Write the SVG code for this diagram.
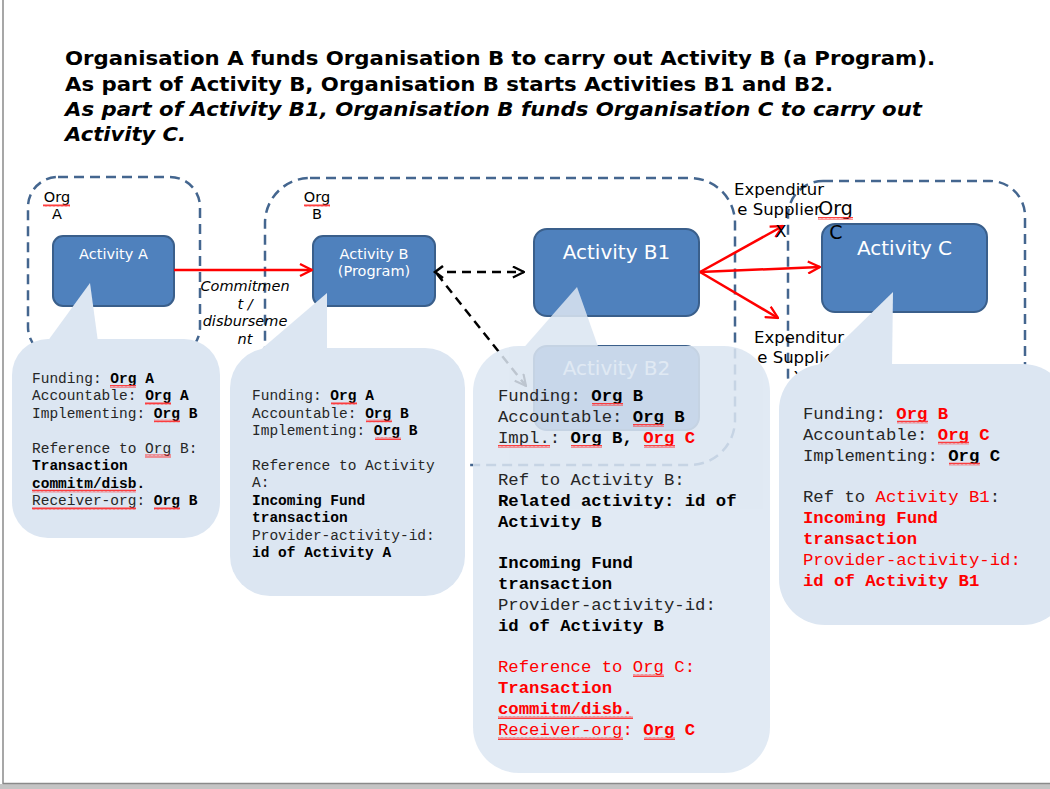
<svg xmlns="http://www.w3.org/2000/svg" width="1050" height="789" viewBox="0 0 1050 789">
<style>
.title{font-family:"DejaVu Sans",sans-serif;font-size:20px;font-weight:bold;fill:#000}
.it{font-style:italic}
.org{fill:none;stroke:#44668f;stroke-width:2.5;stroke-dasharray:10 6}
.olab{font-family:"DejaVu Sans",sans-serif;font-size:14.5px;fill:#000;text-anchor:middle}
.act{fill:#4f81bd;stroke:#3a5f8b;stroke-width:2}
.atx{font-family:"DejaVu Sans",sans-serif;fill:#fff;text-anchor:middle}
.exp{font-family:"DejaVu Sans",sans-serif;font-size:16.5px;fill:#000;text-anchor:middle}
.lbl{font-family:"DejaVu Sans",sans-serif;font-size:14.5px;font-style:italic;fill:#000;text-anchor:middle}
.red{fill:none;stroke:#ff0000;stroke-width:2.5}
.blk{fill:none;stroke:#000;stroke-width:2.5;stroke-dasharray:9 6}
.co{fill:#dce6f2}
.m1{font-family:"Liberation Mono",monospace;font-size:14.5px;fill:#262626}
.m2{font-family:"Liberation Mono",monospace;font-size:17.3px;fill:#262626}
.b{font-weight:bold;fill:#000}
.r{fill:#ff0000}
.rb{font-weight:bold;fill:#ff0000}
.sq{fill:url(#squig)}
</style>
<defs>
<pattern id="squig" width="4" height="3" patternUnits="userSpaceOnUse">
<path d="M0,2.6 L1,0.4 L2,2.6 L3,0.4 L4,2.6" fill="none" stroke="#ff2a2a" stroke-width="0.9"/>
</pattern>
<marker id="ar" viewBox="0 0 14 14" refX="13" refY="7" markerWidth="14" markerHeight="14" markerUnits="userSpaceOnUse" orient="auto">
<path d="M1,1 L13,7 L1,13" fill="none" stroke="#ff0000" stroke-width="2.3"/>
</marker>
<marker id="ak" viewBox="0 0 14 14" refX="13" refY="7" markerWidth="13" markerHeight="13" markerUnits="userSpaceOnUse" orient="auto">
<path d="M1,1 L13,7 L1,13" fill="none" stroke="#000" stroke-width="2.3"/>
</marker>
</defs>

<rect x="0" y="0" width="1050" height="789" fill="#ffffff"/>
<rect x="0" y="784" width="1050" height="5" fill="#c4c4c4"/>
<line x1="3" y1="0" x2="3" y2="784" stroke="#8a8a8a" stroke-width="1.5"/>
<line x1="3" y1="783.5" x2="1050" y2="783.5" stroke="#8a8a8a" stroke-width="1.5"/>

<g id="title">
<text class="title" x="65" y="65" textLength="870" lengthAdjust="spacingAndGlyphs">Organisation A funds Organisation B to carry out Activity B (a Program).</text>
<text class="title" x="65" y="90.5" textLength="768" lengthAdjust="spacingAndGlyphs">As part of Activity B, Organisation B starts Activities B1 and B2.</text>
<text class="title it" x="65" y="116" textLength="857" lengthAdjust="spacingAndGlyphs">As part of Activity B1, Organisation B funds Organisation C to carry out</text>
<text class="title it" x="65" y="141" textLength="121" lengthAdjust="spacingAndGlyphs">Activity C.</text>
</g>

<g id="org-a">
<rect class="org" x="28" y="177" width="172" height="180" rx="30"/>
<text class="olab" x="57" y="202">Org</text>
<text class="olab" x="57" y="219">A</text>
<rect class="sq" x="43" y="204" width="27" height="3"/>
</g>
<g id="org-b">
<rect class="org" x="265" y="178" width="470" height="287" rx="45"/>
<text class="olab" x="317" y="202">Org</text>
<text class="olab" x="317" y="219">B</text>
<rect class="sq" x="304" y="204" width="26" height="3"/>
</g>
<g id="org-c">
<rect class="org" x="788" y="181" width="237" height="230" rx="35"/>
</g>

<g id="expenditure-x-2">
<text class="exp" x="799" y="343">Expenditur</text>
<text class="exp" x="799" y="363">e Supplier</text>
<text class="exp" x="799" y="383">X</text>
</g>

<g id="activity-a">
<rect class="act" x="53" y="236" width="121" height="70" rx="10"/>
<text class="atx" x="113.5" y="259" font-size="14.5px">Activity A</text>
</g>
<g id="activity-b">
<rect class="act" x="313" y="236" width="122" height="70" rx="10"/>
<text class="atx" x="374" y="259" font-size="14.5px">Activity B</text>
<text class="atx" x="374" y="276" font-size="14.5px">(Program)</text>
</g>
<g id="activity-b1">
<rect class="act" x="534" y="229" width="165" height="87" rx="13"/>
<text class="atx" x="616.5" y="259" font-size="20px">Activity B1</text>
</g>
<g id="activity-b2">
<rect class="act" x="534" y="346" width="165" height="84" rx="13"/>
<text class="atx" x="616.5" y="375" font-size="20px">Activity B2</text>
</g>
<g id="activity-c">
<rect class="act" x="822" y="224" width="165" height="88" rx="13"/>
<text class="atx" x="904.5" y="255" font-size="20px">Activity C</text>
</g>

<g id="connectors">
<line class="red" x1="174" y1="270" x2="312" y2="270" marker-end="url(#ar)"/>
<line class="red" x1="700" y1="272" x2="783" y2="226" marker-end="url(#ar)"/>
<line class="red" x1="700" y1="272" x2="820" y2="267" marker-end="url(#ar)"/>
<line class="red" x1="700" y1="272" x2="778" y2="318" marker-end="url(#ar)"/>
<line class="blk" x1="447" y1="272" x2="524" y2="272" marker-end="url(#ak)"/>
<path d="M443,266 L435,272 L443,278" fill="none" stroke="#000" stroke-width="2.5"/>
<line class="blk" x1="437" y1="274" x2="526" y2="386" marker-end="url(#ak)"/>
<text class="lbl" x="245" y="291">Commitmen</text>
<text class="lbl" x="245" y="308.5">t /</text>
<text class="lbl" x="245" y="326">disburseme</text>
<text class="lbl" x="245" y="343.5">nt</text>
</g>

<g id="expenditure-x-1">
<text class="exp" x="779" y="195">Expenditur</text>
<text class="exp" x="779" y="215">e Supplier</text>
<text class="exp" x="781" y="237">X</text>
</g>

<g id="org-c-label">
<text x="835.5" y="215" font-family="DejaVu Sans, sans-serif" font-size="19px" text-anchor="middle" fill="#000">Org</text>
<text x="836" y="239" font-family="DejaVu Sans, sans-serif" font-size="19px" text-anchor="middle" fill="#000">C</text>
<rect class="sq" x="818" y="217" width="35" height="3"/>
</g>

<g id="callout-a">
<path class="co" d="M47,342 L90,283 L98,342 Z"/>
<rect class="co" x="12" y="339" width="208" height="199" rx="36"/>
<g class="m1">
<text x="32" y="383">Funding: <tspan class="b">Org A</tspan></text>
<text x="32" y="400">Accountable: <tspan class="b">Org A</tspan></text>
<text x="32" y="417.5">Implementing: <tspan class="b">Org B</tspan></text>
<text x="32" y="452.5">Reference to Org B:</text>
<text x="32" y="470" class="b">Transaction</text>
<text x="32" y="487.5" class="b">commitm/disb.</text>
<text x="32" y="505">Receiver-org: <tspan class="b">Org B</tspan></text>
</g>
<rect class="sq" x="110" y="385" width="26" height="3"/>
<rect class="sq" x="145" y="402" width="26" height="3"/>
<rect class="sq" x="154" y="419.5" width="26" height="3"/>
<rect class="sq" x="145" y="454.5" width="26" height="3"/>
<rect class="sq" x="32" y="489.5" width="104" height="3"/>
<rect class="sq" x="32" y="507" width="104" height="3"/>
<rect class="sq" x="154" y="507" width="26" height="3"/>
</g>

<g id="callout-b">
<path class="co" d="M258,352 L327,293 L327,352 Z"/>
<rect class="co" x="230" y="348" width="235" height="248" rx="40"/>
<g class="m1">
<text x="252" y="400">Funding: <tspan class="b">Org A</tspan></text>
<text x="252" y="417.5">Accountable: <tspan class="b">Org B</tspan></text>
<text x="252" y="435">Implementing: <tspan class="b">Org B</tspan></text>
<text x="252" y="469.5">Reference to Activity</text>
<text x="252" y="487">A:</text>
<text x="252" y="504.5" class="b">Incoming Fund</text>
<text x="252" y="522" class="b">transaction</text>
<text x="252" y="539.5">Provider-activity-id:</text>
<text x="252" y="557" class="b">id of Activity A</text>
</g>
<rect class="sq" x="331" y="402" width="26" height="3"/>
<rect class="sq" x="366" y="419.5" width="26" height="3"/>
<rect class="sq" x="375" y="437" width="26" height="3"/>
</g>

<g id="callout-b1">
<g opacity="0.86">
<path class="co" d="M520,352 L577,287 L600,352 Z"/>
<rect class="co" x="473" y="346" width="297" height="427" rx="46"/>
</g>
<g class="m2">
<text x="498" y="401">Funding: <tspan class="b">Org B</tspan></text>
<text x="498" y="422">Accountable: <tspan class="b">Org B</tspan></text>
<text x="498" y="443">Impl.: <tspan class="b">Org B,</tspan> <tspan class="rb">Org C</tspan></text>
<text x="498" y="484.5">Ref to Activity B:</text>
<text x="498" y="505.5" class="b">Related activity: id of</text>
<text x="498" y="526.5" class="b">Activity B</text>
<text x="498" y="568" class="b">Incoming Fund</text>
<text x="498" y="589" class="b">transaction</text>
<text x="498" y="609.5">Provider-activity-id:</text>
<text x="498" y="630.5" class="b">id of Activity B</text>
<text x="498" y="672" class="r">Reference to Org C:</text>
<text x="498" y="693" class="rb">Transaction</text>
<text x="498" y="714" class="rb">commitm/disb.</text>
<text x="498" y="735" class="r">Receiver-org: <tspan class="rb">Org C</tspan></text>
</g>
<rect class="sq" x="592" y="403" width="31" height="3"/>
<rect class="sq" x="633" y="424" width="31" height="3"/>
<rect class="sq" x="498" y="445" width="52" height="3"/>
<rect class="sq" x="571" y="445" width="31" height="3"/>
<rect class="sq" x="644" y="445" width="31" height="3"/>
<rect class="sq" x="633" y="674" width="31" height="3"/>
<rect class="sq" x="498" y="716" width="135" height="3"/>
<rect class="sq" x="498" y="737" width="125" height="3"/>
<rect class="sq" x="644" y="737" width="31" height="3"/>
</g>

<g id="callout-c">
<path class="co" d="M815,368 L893,292 L892,368 Z"/>
<rect class="co" x="779" y="364" width="290" height="261" rx="46"/>
<g class="m2">
<text x="803" y="418.5">Funding: <tspan class="rb">Org B</tspan></text>
<text x="803" y="439.5">Accountable: <tspan class="rb">Org C</tspan></text>
<text x="803" y="460.5">Implementing: <tspan class="b">Org C</tspan></text>
<text x="803" y="502">Ref to <tspan class="r">Activity B1</tspan>:</text>
<text x="803" y="523" class="rb">Incoming Fund</text>
<text x="803" y="544" class="rb">transaction</text>
<text x="803" y="565" class="r">Provider-activity-id:</text>
<text x="803" y="586" class="rb">id of Activity B1</text>
</g>
<rect class="sq" x="897" y="420.5" width="31" height="3"/>
<rect class="sq" x="938" y="441.5" width="31" height="3"/>
<rect class="sq" x="949" y="462.5" width="31" height="3"/>
</g>
</svg>
